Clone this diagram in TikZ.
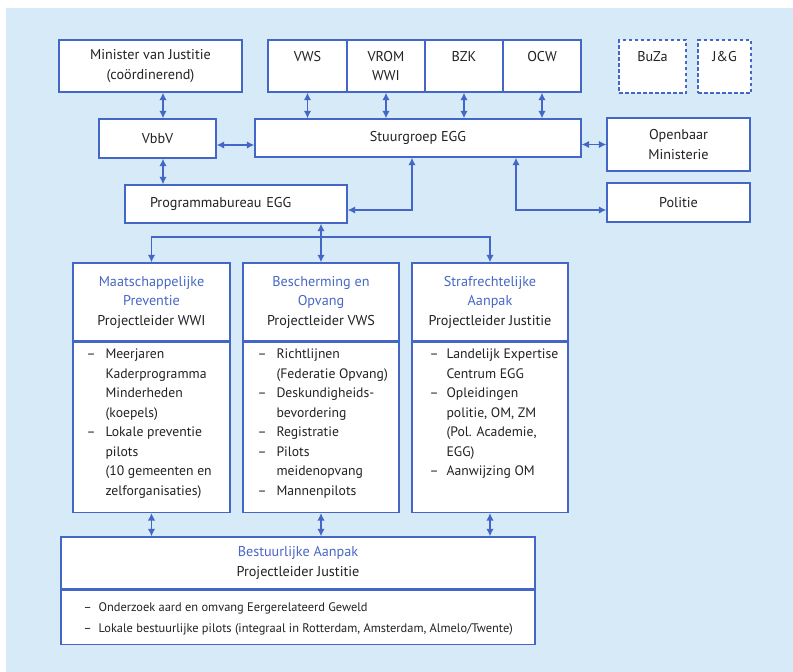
\documentclass[tikz,border=0pt]{standalone}
\usepackage{fontspec}
\setmainfont{PT Sans}
\usepackage{xcolor}
\usetikzlibrary{arrows.meta,positioning}
\definecolor{eggblue}{RGB}{68,102,198}
\definecolor{eggtitle}{RGB}{72,104,196}
\definecolor{eggpaper}{RGB}{214,234,248}
\definecolor{eggtext}{RGB}{34,34,38}
\newcommand{\ttl}[1]{\textcolor{eggtitle}{#1}}

\begin{document}
\begin{tikzpicture}[x=1pt,y=-1pt]
\tikzset{box/.style={draw=eggblue,line width=1.4pt,fill=white,text=eggtext,align=center,inner sep=2pt}}
\tikzset{dashbox/.style={box,dash pattern=on 3.5pt off 2.5pt,line width=1.2pt}}
\tikzset{link/.style={draw=eggblue,line width=1.4pt,{Latex[length=7.5pt,width=7.5pt]}-{Latex[length=7.5pt,width=7.5pt]}}}
\tikzset{feed/.style={draw=eggblue,line width=1.4pt,-{Latex[length=7.5pt,width=7.5pt]}}}
\tikzset{list/.style={anchor=north west,inner sep=0pt,text=eggtext,align=left,font=\fontsize{13.7}{19.5}\selectfont}}

\fontsize{14.2}{19.5}\selectfont

\useasboundingbox (0,0) rectangle (793,672);
\fill[white] (0,0) rectangle (793,672);
\fill[eggpaper] (6,8) rectangle (793,672);

\node[box,minimum width=183pt,minimum height=52pt] (min) at (150.5,66) {Minister van Justitie\\(coördinerend)};
\node[box,minimum width=79pt,minimum height=52pt] (vws) at (307.5,66) {VWS\\\phantom{X}};
\node[box,minimum width=78pt,minimum height=52pt] (vrom) at (386,66) {VROM\\WWI};
\node[box,minimum width=78pt,minimum height=52pt] (bzk) at (464,66) {BZK\\\phantom{X}};
\node[box,minimum width=78pt,minimum height=52pt] (ocw) at (542,66) {OCW\\\phantom{X}};
\node[dashbox,minimum width=67pt,minimum height=53pt] (buza) at (652.5,66.5) {BuZa\\\phantom{X}};
\node[dashbox,minimum width=53pt,minimum height=53pt] (jeng) at (724.5,66.5) {J\&G\\\phantom{X}};

\node[box,minimum width=117pt,minimum height=39pt] (vbbv) at (157.5,138.5) {VbbV};
\node[box,minimum width=326pt,minimum height=38pt] (stuur) at (418,138) {Stuurgroep EGG};
\node[box,minimum width=143pt,minimum height=53pt] (om) at (678.5,144.5) {Openbaar\\Ministerie};
\node[box,minimum width=143pt,minimum height=39pt] (politie) at (678.5,202.5) {Politie};
\node[box,minimum height=38pt,inner xsep=25pt,text width=172pt,align=left] (bureau) at (236,204) {Programmabureau EGG};

\node[box,minimum width=157pt,minimum height=78pt] (prevhead) at (151.5,302) {\ttl{Maatschappelijke}\\\ttl{Preventie}\\Projectleider WWI};
\node[box,minimum width=157pt,minimum height=170pt,below=0pt of prevhead] (prev) {};
\node[list] (prevlist) at ([xshift=14pt,yshift=-3pt]prev.north west) {\begin{tabular}{@{}l@{\hspace{10pt}}l@{}}
–&Meerjaren\\
&Kaderprogramma\\
&Minderheden\\
&(koepels)\\
–&Lokale preventie\\
&pilots\\
&(10 gemeenten en\\
&zelforganisaties)
\end{tabular}};

\node[box,minimum width=156pt,minimum height=78pt] (beschhead) at (321,302) {\ttl{Bescherming en}\\\ttl{Opvang}\\Projectleider VWS};
\node[box,minimum width=156pt,minimum height=170pt,below=0pt of beschhead] (besch) {};
\node[list] (beschlist) at ([xshift=15pt,yshift=-3pt]besch.north west) {\begin{tabular}{@{}l@{\hspace{10pt}}l@{}}
–&Richtlijnen\\
&(Federatie Opvang)\\
–&Deskundigheids-\\
&bevordering\\
–&Registratie\\
–&Pilots\\
&meidenopvang\\
–&Mannenpilots
\end{tabular}};

\node[box,minimum width=156pt,minimum height=78pt] (strafhead) at (490,302) {\ttl{Strafrechtelijke}\\\ttl{Aanpak}\\Projectleider Justitie};
\node[box,minimum width=156pt,minimum height=170pt,below=0pt of strafhead] (straf) {};
\node[list] (straflist) at ([xshift=18pt,yshift=-3pt]straf.north west) {\begin{tabular}{@{}l@{\hspace{8pt}}l@{}}
–&Landelijk Expertise\\
&Centrum EGG\\
–&Opleidingen\\
&politie, OM, ZM\\
&(Pol. Academie,\\
&EGG)\\
–&Aanwijzing OM
\end{tabular}};

\node[box,minimum width=474pt,minimum height=52pt] (bestuurhead) at (298,563) {\ttl{Bestuurlijke Aanpak}\\Projectleider Justitie};
\node[box,minimum width=474pt,minimum height=54pt,below=0pt of bestuurhead] (bestuur) {};
\node[list,anchor=west,font=\fontsize{12.4}{21}\selectfont] (bestuurlist) at ([xshift=23pt]bestuur.west) {\begin{tabular}{@{}l@{\hspace{7pt}}l@{}}
–&Onderzoek aard en omvang Eergerelateerd Geweld\\
–&Lokale bestuurlijke pilots (integraal in Rotterdam, Amsterdam, Almelo/Twente)
\end{tabular}};

\draw[link] ([xshift=5.5pt]vbbv.north) -- ([xshift=5.5pt]vbbv.north |- min.south);
\draw[link] ([xshift=5.5pt]vbbv.south) -- ([xshift=5.5pt]vbbv.south |- bureau.north);
\draw[link] ([yshift=-6.5pt]vbbv.east) -- ([yshift=-6.5pt]vbbv.east -| stuur.west);
\foreach \cell in {vws,vrom,bzk,ocw}
  \draw[link] (\cell.south) -- (\cell.south |- stuur.north);
\draw[link] (om.west -| stuur.east) -- (om.west);
\draw[link] ([xshift=-6pt]stuur.south) |- ([yshift=-6pt]bureau.east);
\draw[link] ([xshift=98pt]stuur.south) |- ([yshift=-7.5pt]politie.west);

\coordinate (split) at (321,237);
\draw[link] (bureau.south -| beschhead.north) -- (beschhead.north);
\draw[feed] (split) -| (prevhead.north);
\draw[feed] (split) -| (strafhead.north);
\foreach \col in {prev,besch,straf}
  \draw[link] (\col.south) -- (\col.south |- bestuurhead.north);

\end{tikzpicture}
\end{document}
